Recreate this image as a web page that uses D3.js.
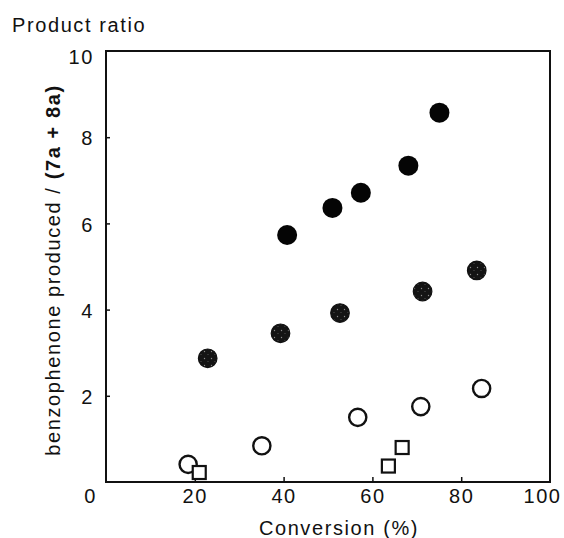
<!DOCTYPE html>
<html>
<head>
<meta charset="utf-8">
<script src="https://cdn.jsdelivr.net/npm/d3@7"></script>
<style>
  html, body { margin: 0; padding: 0; background: #fff; }
  svg { display: block; font-family: "Liberation Sans", Arial, sans-serif; }
  .lbl { font-size: 20px; letter-spacing: 1.6px; fill: #111; }
</style>
</head>
<body>
<svg id="chart" width="564" height="538"></svg>
<script>
(function () {
  'use strict';

  // ── Data ─────────────────────────────────────────────────────────────────
  const xTicks = [0, 20, 40, 60, 80, 100];
  const yTicks = [2, 4, 6, 8, 10];

  // filled black circles
  const filledX = [40.8, 51.0, 57.4, 68.1, 75.1];
  const filledY = [5.73, 6.36, 6.71, 7.34, 8.57];
  // speckled (dark grey) circles
  const speckX = [22.9, 39.3, 52.7, 71.3, 83.5];
  const speckY = [2.87, 3.45, 3.92, 4.42, 4.91];
  // open circles
  const openX = [18.5, 35.1, 56.7, 70.9, 84.6];
  const openY = [0.41, 0.84, 1.50, 1.75, 2.17];
  // open squares
  const squareX = [21.0, 63.6, 66.7];
  const squareY = [0.22, 0.37, 0.80];

  const zip = (xs, ys) => xs.map((x, i) => ({ x, y: ys[i] }));

  // ── Scales ───────────────────────────────────────────────────────────────
  const svg = d3.select('#chart');
  const x = d3.scaleLinear().domain([0, 100]).range([106, 550]);
  const y = d3.scaleLinear().domain([0, 10]).range([482, 51]);

  // speckle pattern for the grey markers
  const pat = svg.append('defs').append('pattern')
    .attr('id', 'speckle').attr('patternUnits', 'userSpaceOnUse')
    .attr('width', 7).attr('height', 7);
  pat.append('rect').attr('width', 7).attr('height', 7).attr('fill', '#141414');
  pat.append('circle').attr('cx', 1.5).attr('cy', 1.5).attr('r', 0.7).attr('fill', '#8a8a8a');
  pat.append('circle').attr('cx', 5).attr('cy', 4.5).attr('r', 0.5).attr('fill', '#666');

  // ── Frame + ticks ────────────────────────────────────────────────────────
  svg.append('rect')
    .attr('x', x(0)).attr('y', y(10))
    .attr('width', x(100) - x(0)).attr('height', y(0) - y(10))
    .attr('fill', 'none').attr('stroke', '#111').attr('stroke-width', 2);

  const xAxis = svg.append('g').attr('transform', `translate(0,${y(0)})`)
    .call(d3.axisBottom(x).tickValues(xTicks).tickSize(-5).tickPadding(10));
  const yAxis = svg.append('g').attr('transform', `translate(${x(0)},0)`)
    .call(d3.axisLeft(y).tickValues(yTicks).tickSize(-4).tickPadding(12));

  [xAxis, yAxis].forEach(ax => {
    ax.select('.domain').remove();
    ax.selectAll('line').attr('stroke', '#111').attr('stroke-width', 1.5);
    ax.selectAll('text').attr('class', 'lbl').attr('font-family', null).attr('font-size', null);
  });
  xAxis.selectAll('.tick').filter(d => d === 0 || d === 100).select('line').remove();
  xAxis.selectAll('.tick text').attr('dy', '0.55em')
    .attr('dx', d => d === 0 ? -16 : d === 100 ? -8 : 0);
  yAxis.selectAll('.tick').filter(d => d === 10).select('line').remove();
  yAxis.selectAll('.tick text').attr('dy', d => d === 10 ? '0.62em' : '0.38em');

  // ── Titles ───────────────────────────────────────────────────────────────
  svg.append('text').attr('class', 'lbl')
    .attr('x', 12).attr('y', 32).text('Product ratio');

  svg.append('text').attr('class', 'lbl')
    .attr('x', 339).attr('y', 535).attr('text-anchor', 'middle')
    .text('Conversion (%)');

  const yl = svg.append('text').attr('class', 'lbl')
    .attr('transform', 'translate(60,270) rotate(-90)')
    .attr('text-anchor', 'middle');
  yl.append('tspan').text('benzophenone produced / ');
  yl.append('tspan').attr('font-weight', 'bold').text('(7a + 8a)');

  // ── Markers ──────────────────────────────────────────────────────────────
  const pts = svg.append('g');

  pts.selectAll('.open').data(zip(openX, openY)).join('circle')
    .attr('cx', d => x(d.x)).attr('cy', d => y(d.y)).attr('r', 8.6)
    .attr('fill', '#fff').attr('stroke', '#111').attr('stroke-width', 2.4);

  pts.selectAll('.sq').data(zip(squareX, squareY)).join('rect')
    .attr('x', d => x(d.x) - 6.5).attr('y', d => y(d.y) - 6.5)
    .attr('width', 13).attr('height', 13)
    .attr('fill', '#fff').attr('stroke', '#111').attr('stroke-width', 2.2);

  pts.selectAll('.speck').data(zip(speckX, speckY)).join('circle')
    .attr('cx', d => x(d.x)).attr('cy', d => y(d.y)).attr('r', 9.3)
    .attr('fill', 'url(#speckle)').attr('stroke', '#111').attr('stroke-width', 1.2);

  pts.selectAll('.filled').data(zip(filledX, filledY)).join('circle')
    .attr('cx', d => x(d.x)).attr('cy', d => y(d.y)).attr('r', 10)
    .attr('fill', '#050505');

})();
</script>
</body>
</html>
